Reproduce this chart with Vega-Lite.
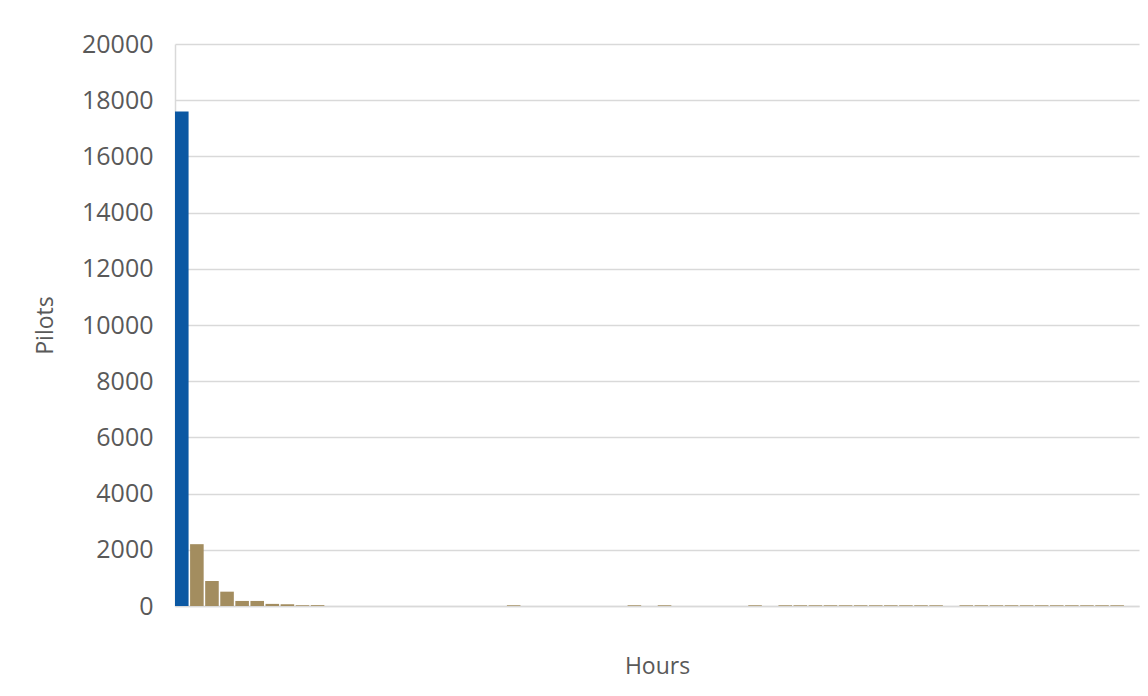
{
  "$schema": "https://vega.github.io/schema/vega-lite/v6.json",
  "autosize": "none",
  "width": 964,
  "height": 562,
  "padding": {"left": 175, "top": 44, "right": 9, "bottom": 90},
  "background": "white",
  "config": {
    "view": {"stroke": null},
    "font": "Open Sans",
    "axis": {
      "labelFont": "Open Sans",
      "titleFont": "Open Sans",
      "labelColor": "#595959",
      "titleColor": "#595959",
      "titleFontWeight": "normal",
      "domainColor": "#d9d9d9",
      "gridColor": "#d9d9d9",
      "gridWidth": 1.4,
      "domainWidth": 1.5
    }
  },
  "data": {
    "values": [
      {"bin": 0, "pilots": 17600, "group": "first"},
      {"bin": 1, "pilots": 2200, "group": "rest"},
      {"bin": 2, "pilots": 890, "group": "rest"},
      {"bin": 3, "pilots": 510, "group": "rest"},
      {"bin": 4, "pilots": 180, "group": "rest"},
      {"bin": 5, "pilots": 180, "group": "rest"},
      {"bin": 6, "pilots": 75, "group": "rest"},
      {"bin": 7, "pilots": 65, "group": "rest"},
      {"bin": 8, "pilots": 30, "group": "rest"},
      {"bin": 9, "pilots": 30, "group": "rest"},
      {"bin": 10, "pilots": 0, "group": "rest"},
      {"bin": 11, "pilots": 0, "group": "rest"},
      {"bin": 12, "pilots": 0, "group": "rest"},
      {"bin": 13, "pilots": 0, "group": "rest"},
      {"bin": 14, "pilots": 0, "group": "rest"},
      {"bin": 15, "pilots": 0, "group": "rest"},
      {"bin": 16, "pilots": 0, "group": "rest"},
      {"bin": 17, "pilots": 0, "group": "rest"},
      {"bin": 18, "pilots": 0, "group": "rest"},
      {"bin": 19, "pilots": 0, "group": "rest"},
      {"bin": 20, "pilots": 0, "group": "rest"},
      {"bin": 21, "pilots": 0, "group": "rest"},
      {"bin": 22, "pilots": 25, "group": "rest"},
      {"bin": 23, "pilots": 0, "group": "rest"},
      {"bin": 24, "pilots": 0, "group": "rest"},
      {"bin": 25, "pilots": 0, "group": "rest"},
      {"bin": 26, "pilots": 0, "group": "rest"},
      {"bin": 27, "pilots": 0, "group": "rest"},
      {"bin": 28, "pilots": 0, "group": "rest"},
      {"bin": 29, "pilots": 0, "group": "rest"},
      {"bin": 30, "pilots": 25, "group": "rest"},
      {"bin": 31, "pilots": 0, "group": "rest"},
      {"bin": 32, "pilots": 25, "group": "rest"},
      {"bin": 33, "pilots": 0, "group": "rest"},
      {"bin": 34, "pilots": 0, "group": "rest"},
      {"bin": 35, "pilots": 0, "group": "rest"},
      {"bin": 36, "pilots": 0, "group": "rest"},
      {"bin": 37, "pilots": 0, "group": "rest"},
      {"bin": 38, "pilots": 25, "group": "rest"},
      {"bin": 39, "pilots": 0, "group": "rest"},
      {"bin": 40, "pilots": 25, "group": "rest"},
      {"bin": 41, "pilots": 25, "group": "rest"},
      {"bin": 42, "pilots": 25, "group": "rest"},
      {"bin": 43, "pilots": 25, "group": "rest"},
      {"bin": 44, "pilots": 25, "group": "rest"},
      {"bin": 45, "pilots": 25, "group": "rest"},
      {"bin": 46, "pilots": 25, "group": "rest"},
      {"bin": 47, "pilots": 25, "group": "rest"},
      {"bin": 48, "pilots": 25, "group": "rest"},
      {"bin": 49, "pilots": 25, "group": "rest"},
      {"bin": 50, "pilots": 25, "group": "rest"},
      {"bin": 51, "pilots": 0, "group": "rest"},
      {"bin": 52, "pilots": 25, "group": "rest"},
      {"bin": 53, "pilots": 25, "group": "rest"},
      {"bin": 54, "pilots": 25, "group": "rest"},
      {"bin": 55, "pilots": 25, "group": "rest"},
      {"bin": 56, "pilots": 25, "group": "rest"},
      {"bin": 57, "pilots": 25, "group": "rest"},
      {"bin": 58, "pilots": 25, "group": "rest"},
      {"bin": 59, "pilots": 25, "group": "rest"},
      {"bin": 60, "pilots": 25, "group": "rest"},
      {"bin": 61, "pilots": 25, "group": "rest"},
      {"bin": 62, "pilots": 25, "group": "rest"},
      {"bin": 63, "pilots": 0, "group": "rest"}
    ]
  },
  "mark": {"type": "bar"},
  "encoding": {
    "x": {
      "field": "bin",
      "type": "ordinal",
      "sort": "ascending",
      "scale": {"paddingInner": 0.1, "paddingOuter": 0},
      "axis": {
        "title": "Hours",
        "labels": false,
        "ticks": false,
        "titleFontSize": 23,
        "titlePadding": 49,
        "titleBaseline": "top"
      }
    },
    "y": {
      "field": "pilots",
      "type": "quantitative",
      "scale": {"domain": [0, 20000], "nice": false},
      "axis": {
        "title": "Pilots",
        "values": [0, 2000, 4000, 6000, 8000, 10000, 12000, 14000, 16000, 18000, 20000],
        "format": "d",
        "ticks": false,
        "labelFontSize": 25,
        "labelPadding": 22,
        "titleFontSize": 23,
        "titlePadding": 24,
        "grid": true
      }
    },
    "color": {
      "field": "group",
      "type": "nominal",
      "scale": {"domain": ["first", "rest"], "range": ["#0b58a3", "#a38d5f"]},
      "legend": null
    }
  }
}
